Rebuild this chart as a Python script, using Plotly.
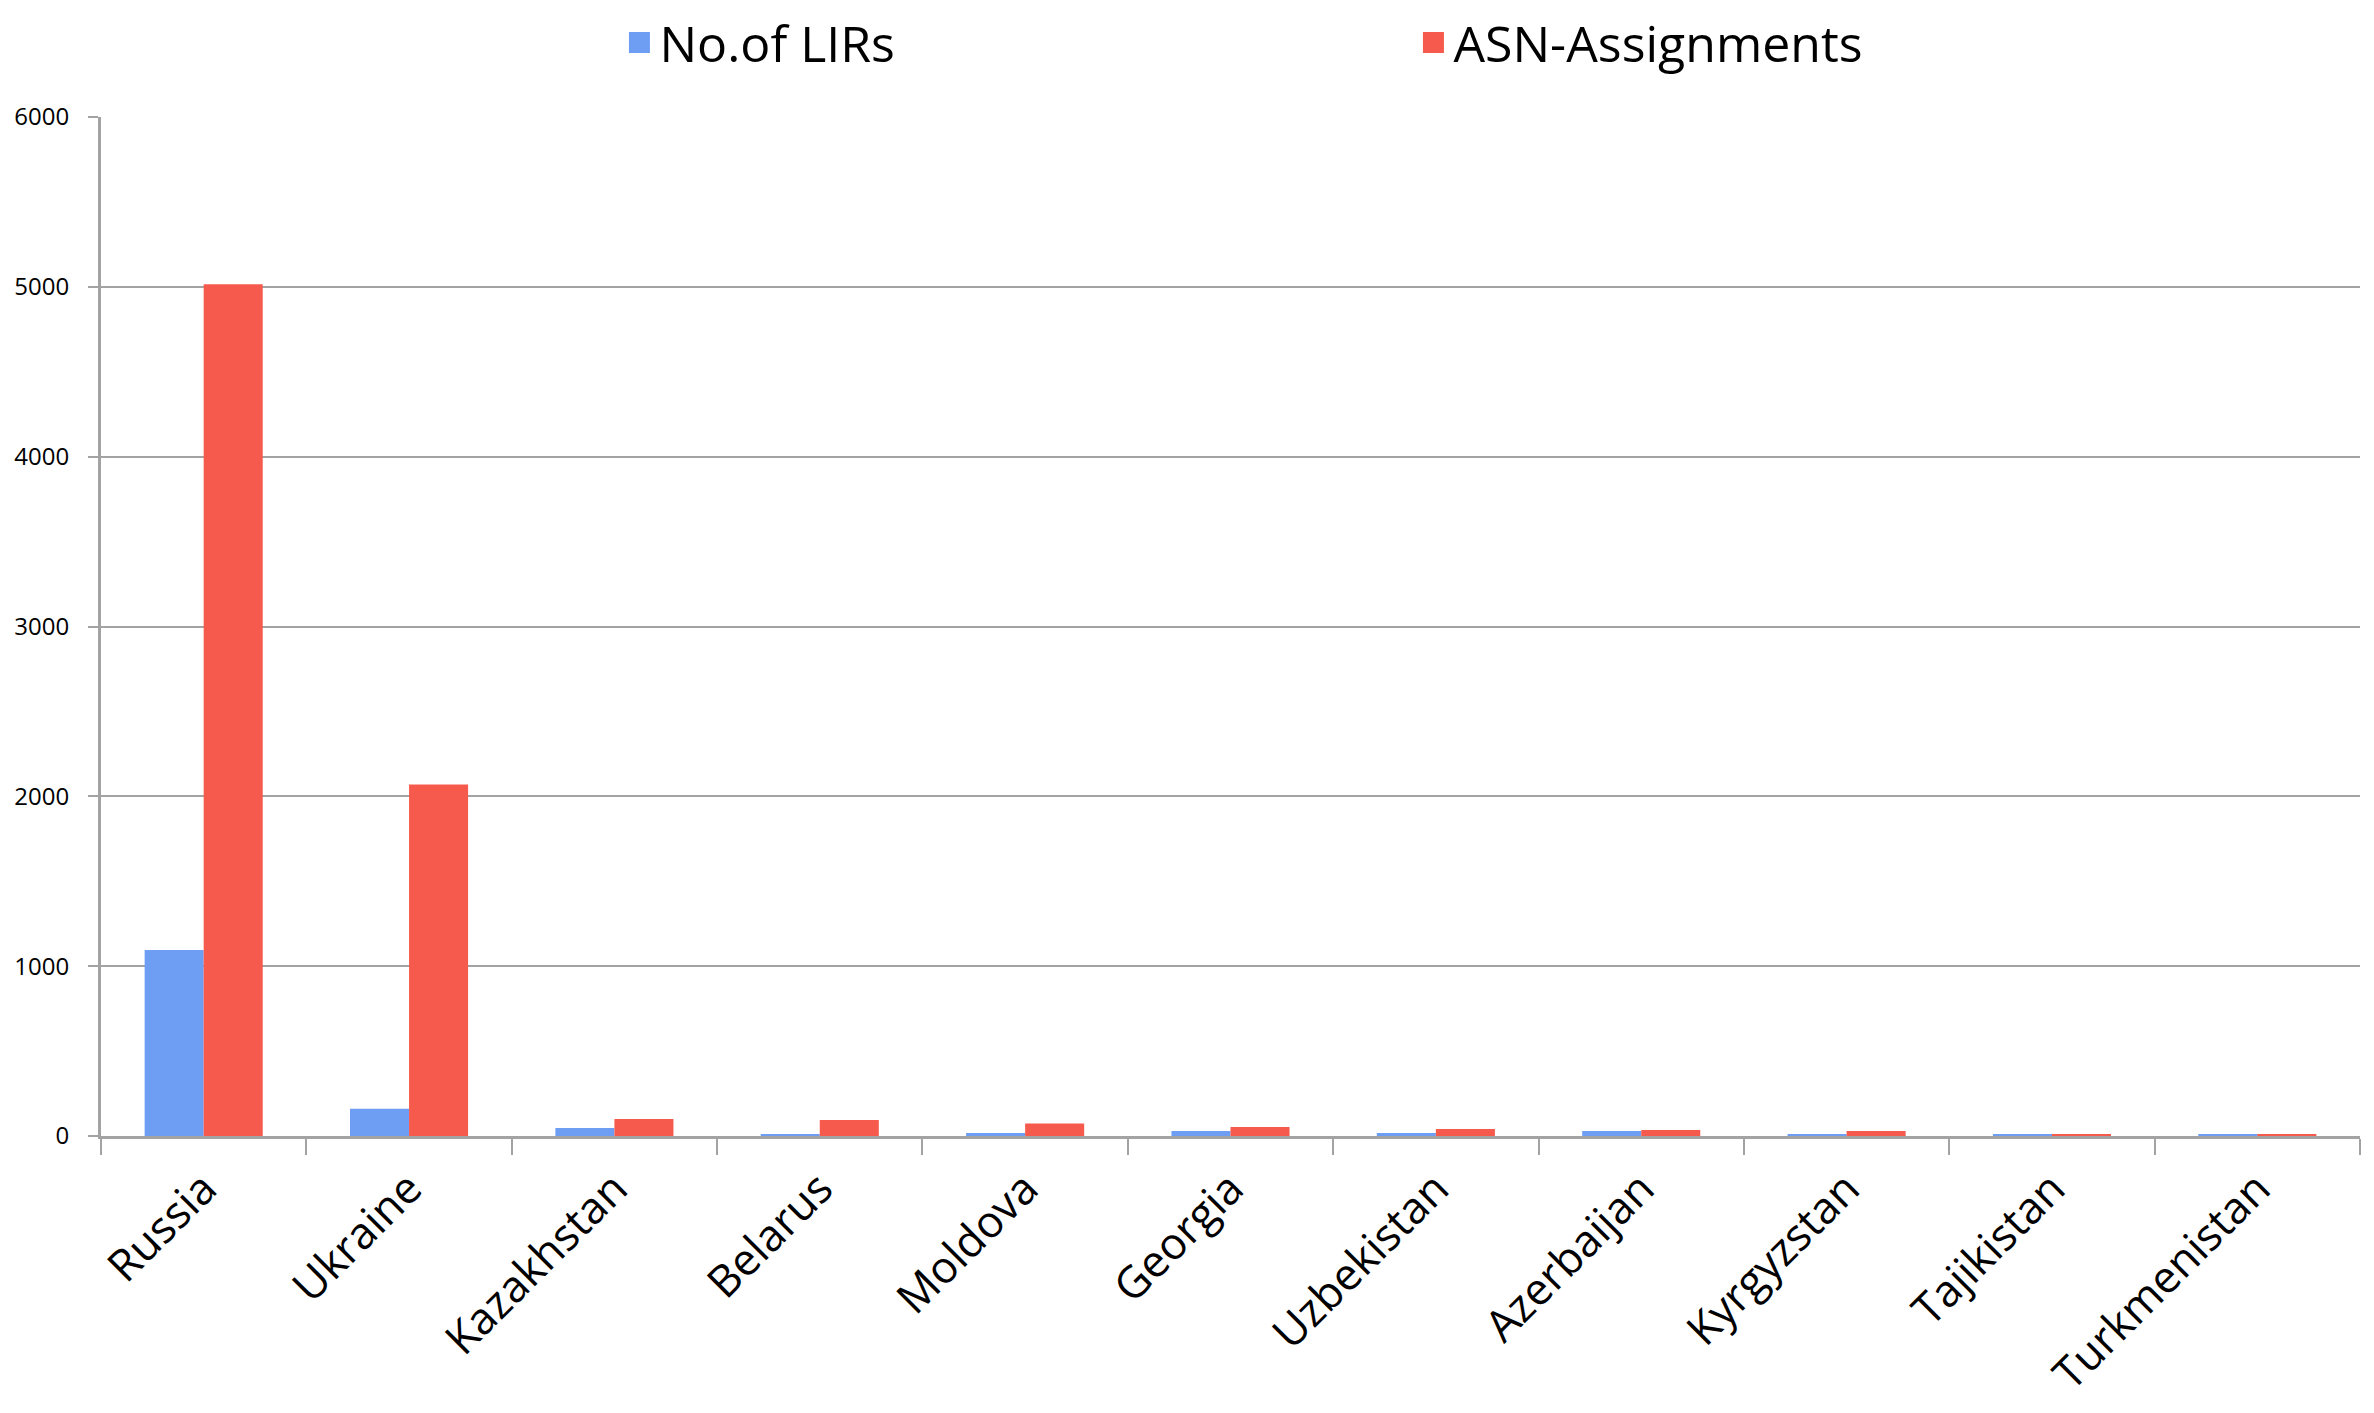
import plotly.graph_objects as go

countries = ["Russia", "Ukraine", "Kazakhstan", "Belarus", "Moldova", "Georgia",
             "Uzbekistan", "Azerbaijan", "Kyrgyzstan", "Tajikistan", "Turkmenistan"]
lirs = [1095, 160, 47, 12, 18, 29, 18, 29, 12, 12, 12]
asn = [5015, 2070, 100, 94, 73, 53, 41, 35, 29, 12, 12]
y_ticks = [0, 1000, 2000, 3000, 4000, 5000, 6000]
series_names = ["No.of LIRs", "ASN-Assignments"]

blue = "#6e9ef4"
red = "#f65a4c"
grid = "#a3a3a3"

fig = go.Figure()
fig.add_trace(go.Bar(x=countries, y=lirs, name=series_names[0], showlegend=False,
                     marker=dict(color=blue, line=dict(width=0))))
fig.add_trace(go.Bar(x=countries, y=asn, name=series_names[1], showlegend=False,
                     marker=dict(color=red, line=dict(width=0))))
# legend entries with larger square swatches
for nm, col in zip(series_names, [blue, red]):
    fig.add_trace(go.Scatter(x=[None], y=[None], mode="markers", name=nm,
                             marker=dict(symbol="square", size=30, color=col,
                                         line=dict(width=6, color=col)),
                             showlegend=True, hoverinfo="skip"))

fig.update_layout(
    width=2358, height=1397,
    paper_bgcolor="white", plot_bgcolor="white",
    margin=dict(l=93, r=6, t=109, b=269, autoexpand=False),
    barmode="group", bargap=0.425, bargroupgap=0,
    font=dict(family="Open Sans", color="black"),
    showlegend=True,
    legend=dict(orientation="h", x=0.2295, xanchor="left", y=1.073, yanchor="middle",
                font=dict(size=50), entrywidth=749, entrywidthmode="pixels",
                bgcolor="rgba(0,0,0,0)", itemwidth=30, itemsizing="trace"),
)
fig.update_xaxes(
    type="category", showline=True, linecolor=grid, linewidth=3, automargin=False,
    ticks="outside", tickson="boundaries", ticklen=16, tickwidth=2, tickcolor=grid,
    tickangle=-45, tickfont=dict(size=44), showgrid=False, ticklabelstandoff=6,
)
fig.update_yaxes(
    range=[0, 6000], tickvals=y_ticks, ticktext=[str(v) for v in y_ticks],
    showline=True, linecolor=grid, linewidth=3, automargin=False,
    ticks="outside", ticklen=10, tickwidth=2, tickcolor=grid,
    showgrid=True, gridcolor=grid, gridwidth=2, zeroline=False,
    tickfont=dict(size=24), ticklabelstandoff=14,
)

fig.write_html("out.html")
